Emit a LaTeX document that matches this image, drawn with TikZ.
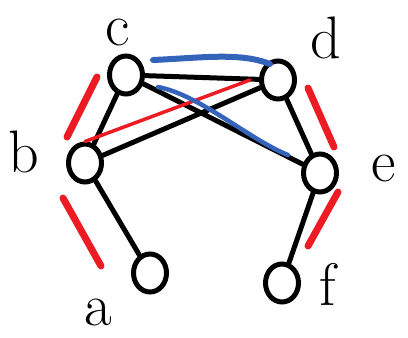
\documentclass[tikz,border=0pt]{standalone}
\usepackage{fontspec}
\usetikzlibrary{calc,shapes.geometric}
\definecolor{penred}{RGB}{237,28,36}
\definecolor{penblue}{RGB}{52,100,185}
\begin{document}
\begin{tikzpicture}[x=1pt, y=-1pt,
  vtx/.style={draw, ellipse, line width=5pt, minimum width=33pt, minimum height=38pt, inner sep=0pt},
  edge/.style={line width=5pt, line cap=round},
  redstroke/.style={penred, line width=7pt, line cap=round},
  bluestroke/.style={penblue, line width=6pt, line cap=round},
  lbl/.style={font=\fontsize{60}{60}\selectfont, inner sep=0pt}]
  \useasboundingbox (0,0) rectangle (408,338);
  % vertices
  \node[vtx] (c) at (126,75) {};
  \node[vtx] (d) at (278,80) {};
  \node[vtx] (b) at (85,163) {};
  \node[vtx] (e) at (320,173) {};
  \node[vtx] (a) at (150,273) {};
  \node[vtx] (f) at (282,283) {};
  % labels
  \node[lbl] (lc) at (118,32) {c};
  \node[lbl] (ld) at (326,38) {d};
  \node[lbl] (lb) at (24,152) {b};
  \node[lbl] (le) at (384,168) {e};
  \node[lbl] (la) at (98,312) {a};
  \node[lbl] (lf) at (328,284) {f};
  % edges
  \draw[edge] (c) -- (d);
  \draw[edge] (c) -- (b);
  \draw[edge] (c) -- (e);
  \draw[edge] (b) -- (d);
  \draw[edge] (b) -- (a);
  \draw[edge] (d) -- (e);
  \draw[edge] (e) -- (f);
  % red strokes
  \draw[redstroke] (67,137) -- (97,77);
  \draw[redstroke] (63,198) -- (101,266);
  \draw[redstroke] (308,88) -- (334,147);
  \draw[redstroke] (338,192) -- (308,246);
  \draw[penred, line width=3.5pt, line cap=round] (b.north) -- (250,80);
  % blue strokes
  \draw[bluestroke] (153,60) .. controls (200,58) and (240,52) .. (270,64);
  \draw[penblue, line width=4.5pt, line cap=round] (158,87) .. controls (200,95) and (250,140) .. (288,155);
\end{tikzpicture}
\end{document}
